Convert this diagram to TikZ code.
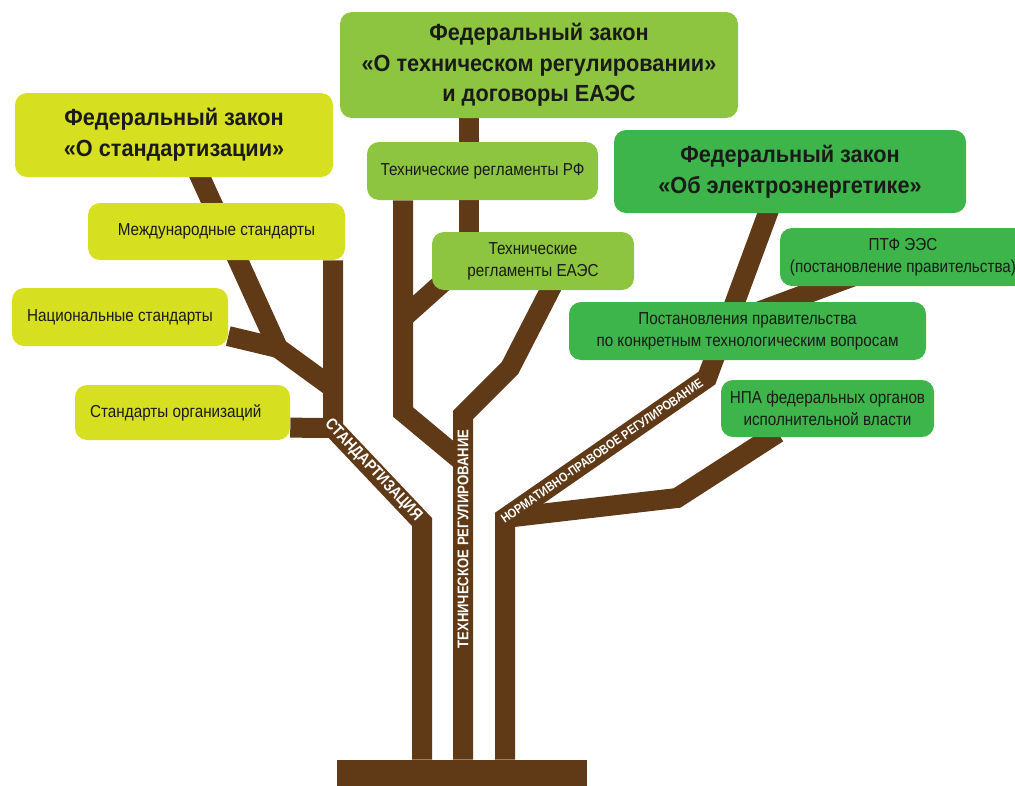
\documentclass[tikz,border=0pt]{standalone}
\usepackage{fontspec}
\setmainfont{Liberation Sans}
\newfontfamily\leaffont{Liberation Sans}[FakeStretch=0.88]
\newfontfamily\lawfont{Liberation Sans}[FakeStretch=0.93]
\newfontfamily\barkfont{Liberation Sans}[FakeStretch=0.85]
\usetikzlibrary{shapes}
\pgfdeclarelayer{bg}
\pgfsetlayers{bg,main}
\definecolor{bark}{HTML}{603A17}
\definecolor{stdcol}{HTML}{D7DF21}
\definecolor{techcol}{HTML}{8DC540}
\definecolor{enercol}{HTML}{3DB54A}
\definecolor{ink}{HTML}{1A1A1A}

\begin{document}
\begin{tikzpicture}[x=0.75pt,y=-0.75pt]
	\tikzstyle{leaf}=[rectangle,rounded corners=9pt,inner sep=0pt,text=ink,align=center,font=\leaffont\fontsize{13}{16.5}\selectfont]
	\tikzstyle{law}=[leaf,font=\lawfont\fontsize{17.5}{23}\selectfont\bfseries]
	\tikzstyle{branch}=[draw=bark,line width=15pt]
	\tikzstyle{barklabel}=[sloped,text=white,inner sep=0pt,font=\barkfont\fontsize{11.6}{12}\selectfont\bfseries]
	\useasboundingbox (0,0) rectangle (1015,786);

	\node[law,fill=stdcol,minimum width=238.5pt,minimum height=63pt] (stdlaw) at (174,135) {Федеральный закон\\«О стандартизации»};
	\node[leaf,fill=stdcol,minimum width=192.75pt,minimum height=42.75pt] (intl) at (216.5,231.5) {Международные стандарты};
	\node[leaf,fill=stdcol,minimum width=162pt,minimum height=43.5pt] (natl) at (120,317) {Национальные стандарты};
	\node[leaf,fill=stdcol,minimum width=161.25pt,minimum height=41.25pt] (org) at (182.5,412.5) {Стандарты организаций\hspace*{10pt}};

	\node[law,fill=techcol,minimum width=298.5pt,minimum height=79.5pt] (techlaw) at (539,65) {Федеральный закон\\«О техническом регулировании»\\и договоры ЕАЭС};
	\node[leaf,fill=techcol,minimum width=173.25pt,minimum height=43.5pt] (trf) at (482.5,171) {Технические регламенты РФ};
	\node[leaf,fill=techcol,minimum width=151.5pt,minimum height=43.5pt] (teaes) at (533,261) {Технические\\регламенты ЕАЭС};

	\node[law,fill=enercol,minimum width=264pt,minimum height=62.25pt] (elaw) at (790,171.5) {Федеральный закон\\«Об электроэнергетике»};
	\node[leaf,fill=enercol,minimum width=184.5pt,minimum height=43.5pt] (ptf) at (903,257) {ПТФ ЭЭС\\(постановление правительства)};
	\node[leaf,fill=enercol,minimum width=267.75pt,minimum height=43.5pt] (post) at (747.5,331) {Постановления правительства\\по конкретным технологическим вопросам};
	\node[leaf,fill=enercol,minimum width=159.75pt,minimum height=42.75pt] (npa) at (827.5,408.5) {НПА федеральных органов\\исполнительной власти};

	\node[rectangle,fill=bark,minimum width=187.5pt,minimum height=19.5pt,inner sep=0pt] (root) at (462,773) {};

	\begin{pgfonlayer}{bg}
		\coordinate (sL) at (422,522);
		\coordinate (sJ) at (333,428);
		\coordinate (sT) at (197,170);
		\coordinate (sK) at (278,348);
		\coordinate (sM) at (333,388);
		\draw[branch] (sT) -- (sK) -- (sM);
		\draw[branch] (natl.-10) -- (sK);
		\draw[branch] (org.-8) -- (sJ);
		\draw[branch] (root.north -| sL) -- (sL) -- node[barklabel,pos=0.55,font=\barkfont\fontsize{12.2}{13}\selectfont\bfseries]{СТАНДАРТИЗАЦИЯ} (sJ) -- (sJ |- intl.south);

		\coordinate (tA) at (463,415);
		\coordinate (tB) at (510,368);
		\coordinate (tL) at (403,412);
		\coordinate (tM) at (463,462);
		\coordinate (tS) at (403,318);
		\coordinate (tE) at (450,276);
		\coordinate (tV) at (469,240);
		\draw[branch] (techlaw.south -| tV) -- (tV);
		\draw[branch] (trf.south -| tL) -- (tL) -- (tM);
		\draw[branch] (tS) -- (tE);
		\draw[branch,shorten >=-6pt] (root.north -| tA) -- node[barklabel,pos=0.64]{ТЕХНИЧЕСКОЕ РЕГУЛИРОВАНИЕ} (tA) -- (tB) -- (teaes.-60);

		\coordinate (nL) at (505,518);
		\coordinate (nB) at (707,378);
		\coordinate (nC) at (677,498);
		\coordinate (pA) at (720,326);
		\coordinate (pB) at (900,259);
		\draw[branch] (pA) -- (pB);
		\draw[branch,shorten >=-6pt] (nL) -- (nC) -- (npa.-153);
		\draw[branch,shorten >=-6pt] (root.north -| nL) -- (nL) -- node[barklabel,pos=0.48,font=\barkfont\fontsize{9.6}{10}\selectfont\bfseries]{НОРМАТИВНО-ПРАВОВОЕ РЕГУЛИРОВАНИЕ} (nB) -- (elaw.-118);
	\end{pgfonlayer}
\end{tikzpicture}
\end{document}
